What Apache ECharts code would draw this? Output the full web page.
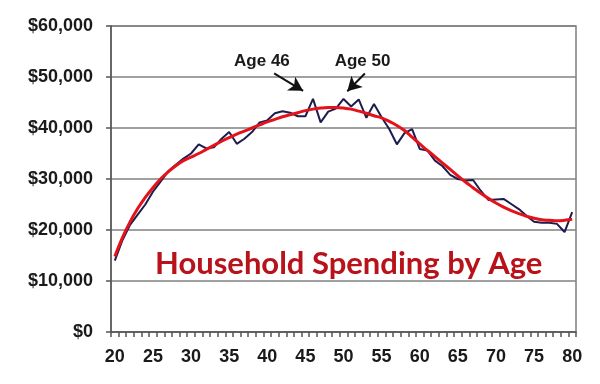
<!DOCTYPE html>
<html>
<head>
<meta charset="utf-8">
<script src="https://cdn.jsdelivr.net/npm/echarts@6/dist/echarts.min.js"></script>
<style>
html,body{margin:0;padding:0;background:#fff;}
#chart{width:600px;height:384px;}
</style>
</head>
<body>
<div id="chart"></div>
<script>
var ages = [];
for (var a = 20; a <= 80; a++) ages.push(String(a));

var spending = [
  14000, 18000, 21000, 23000, 25000, 27500, 29500, 31500, 32800, 34000,
  35000, 36800, 36000, 36200, 37900, 39200, 36900, 37900, 39200, 41100,
  41500, 42900, 43300, 43000, 42300, 42300, 45700, 41100, 43200, 43800,
  45700, 44200, 45600, 42000, 44700, 42100, 39800, 36800, 39000, 39800,
  35900, 35600, 33600, 32500, 30800, 30000, 29700, 29800, 27700, 25900,
  26000, 26100, 25100, 24100, 22800, 21600, 21400, 21400, 21200, 19600,
  23500
];

var trend = [
  14800, 18500, 21600, 24200, 26400, 28300, 30000, 31400, 32600, 33600,
  34300, 35000, 35800, 36600, 37400, 38100, 38800, 39400, 40000, 40600,
  41200, 41700, 42200, 42600, 43000, 43400, 43700, 43900, 44000, 44000,
  43900, 43700, 43300, 42900, 42400, 42000, 41300, 40500, 39500, 38200,
  36900, 35600, 34400, 33100, 31900, 30600, 29400, 28300, 27200, 26200,
  25300, 24500, 23800, 23200, 22700, 22300, 22000, 21900, 21800, 21900,
  22100
];

var yTicks = [0, 10000, 20000, 30000, 40000, 50000, 60000];

var notes = [
  { text: 'Age 46', at: [39.3, 53100], from: [40.9, 50700], to: [44.7, 47300] },
  { text: 'Age 50', at: [52.5, 53100], from: [52.8, 50700], to: [50.5, 47200] }
];

function money(v) {
  return '$' + String(v).replace(/\B(?=(\d{3})+(?!\d))/g, ',');
}

var chart = echarts.init(document.getElementById('chart'), null, { renderer: 'canvas' });

chart.setOption({
  animation: false,
  backgroundColor: '#ffffff',
  title: {
    text: 'Household Spending by Age',
    left: 150,
    top: 243,
    textStyle: { color: '#B8121B', fontFamily: 'Lato', fontWeight: 'bold', fontSize: 31 }
  },
  grid: {
    left: 111, right: 24, top: 26, bottom: 52,
    show: true, borderColor: '#7f7f7f', borderWidth: 1.5, backgroundColor: 'transparent'
  },
  xAxis: [{
    type: 'category',
    data: ages,
    boundaryGap: true,
    axisLine: { show: true, lineStyle: { color: '#555', width: 1.5 } },
    axisTick: { show: true, interval: 0, length: 5, lineStyle: { color: '#555', width: 1.5 } },
    axisLabel: {
      interval: 4, margin: 16, color: '#1a1a1a',
      fontFamily: 'Liberation Sans', fontWeight: 'bold', fontSize: 18
    },
    splitLine: { show: false }
  }, {
    type: 'value', min: 19.5, max: 80.5, show: false
  }],
  yAxis: {
    type: 'value',
    min: yTicks[0], max: yTicks[yTicks.length - 1], interval: 10000,
    axisLine: { show: true, lineStyle: { color: '#555', width: 1.5 } },
    axisTick: { show: true, length: 5, lineStyle: { color: '#555', width: 1.5 } },
    axisLabel: {
      margin: 18, color: '#1a1a1a', formatter: money,
      fontFamily: 'Liberation Sans', fontWeight: 'bold', fontSize: 18
    },
    splitLine: { show: true, lineStyle: { color: '#808080', width: 1.5 } }
  },
  series: [{
    name: 'Spending',
    type: 'line',
    data: spending,
    symbol: 'none',
    lineStyle: { color: '#1c1d4d', width: 2 },
    z: 2
  }, {
    name: 'Trend',
    type: 'line',
    data: trend,
    symbol: 'none',
    smooth: 0.4,
    lineStyle: { color: '#e3121b', width: 3 },
    z: 3
  }, {
    name: 'notes',
    type: 'line',
    xAxisIndex: 1,
    data: [],
    z: 4,
    markPoint: {
      symbol: 'rect', symbolSize: 1,
      itemStyle: { color: 'rgba(0,0,0,0)' },
      label: {
        show: true, position: 'inside', color: '#1a1a1a',
        fontFamily: 'Liberation Sans', fontWeight: 'bold', fontSize: 17,
        formatter: function (p) { return p.name; }
      },
      data: notes.map(function (n) { return { name: n.text, coord: n.at }; })
    },
    markLine: {
      silent: true,
      symbol: ['none', 'arrow'],
      symbolSize: [12, 14],
      label: { show: false },
      lineStyle: { color: '#111', width: 2, type: 'solid' },
      data: notes.map(function (n) { return [{ coord: n.from }, { coord: n.to }]; })
    }
  }]
});
</script>
</body>
</html>
